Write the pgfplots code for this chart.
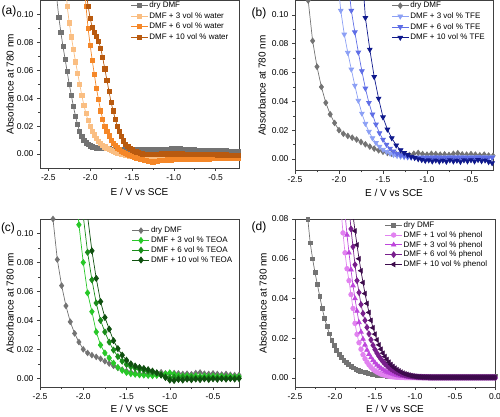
\documentclass[border=0pt]{standalone}
\usepackage{fontspec}
\setmainfont{Liberation Sans}
\usepackage{pgfplots}
\pgfplotsset{compat=1.18}
\definecolor{cgrey}{RGB}{115,115,115}
\definecolor{lorange}{RGB}{250,190,130}
\definecolor{morange}{RGB}{245,135,40}
\definecolor{dorange}{RGB}{185,90,15}
\definecolor{lblue}{RGB}{140,160,245}
\definecolor{mblue}{RGB}{95,110,230}
\definecolor{dblue}{RGB}{15,25,140}
\definecolor{lgreen}{RGB}{40,200,40}
\definecolor{mgreen}{RGB}{25,140,25}
\definecolor{dgreen}{RGB}{15,80,15}
\definecolor{lpink}{RGB}{225,130,240}
\definecolor{magen}{RGB}{190,70,220}
\definecolor{purp}{RGB}{120,30,140}
\definecolor{dpurp}{RGB}{60,10,75}
\pgfplotsset{
  panel/.style={
    scale only axis, anchor=south west,
    axis line style={black!75, line width=0.6pt},
    tick align=outside, tick pos=left,
    major tick length=3pt, minor tick length=1.8pt,
    minor x tick num=1, minor y tick num=1,
    every tick/.style={black!75, line width=0.5pt},
    scaled y ticks=false, scaled x ticks=false,
    tick label style={font=\fontsize{8.5}{10}\selectfont},
    /pgf/number format/assume math mode=true,
    x tick label style={/pgf/number format/.cd, fixed, fixed zerofill, precision=1, /tikz/.cd},
    y tick label style={/pgf/number format/.cd, fixed, fixed zerofill, precision=2, /tikz/.cd},
    label style={font=\fontsize{10}{12}\selectfont},
    xlabel={E / V vs SCE}, ylabel={Absorbance at 780 nm},
    legend style={anchor=north west, draw=none, fill=none, font=\fontsize{8}{9.5}\selectfont,
      inner sep=0pt, outer sep=0pt, row sep=0pt, nodes={inner sep=1.2pt, text height=5.9pt, text depth=1.5pt}},
    legend cell align=left,
    legend image code/.code={\draw[mark repeat=2,mark phase=2,##1] plot coordinates {(0pt,0pt) (8.5pt,0pt) (17pt,0pt)};},
  },
  ser/.style={color=#1, line width=0.7pt, mark options={solid, fill=#1, draw=#1}},
}
\begin{document}
\begin{tikzpicture}
\useasboundingbox (0pt,0pt) rectangle (500pt,416pt);
% ---------------- (a)
\begin{axis}[panel, at={(40pt,248pt)}, width=199pt, height=167.5pt,
  xmin=-2.6, xmax=-0.22, ymin=-0.01, ymax=0.11,
  xtick={-2.5,-2,-1.5,-1,-0.5}, ytick={0,0.02,0.04,0.06,0.08,0.10},
  xlabel style={at={(axis description cs:0.5,-0.143)}, anchor=center},
  ylabel style={at={(axis description cs:-0.151,0.5)}, anchor=center},
  legend style={at={(axis description cs:0.455,0.998)}, row sep=0.7pt}]
\addplot[ser=cgrey, mark=square*, mark size=2.1pt] coordinates {(-2.425,0.135)(-2.4,0.112)(-2.375,0.098)(-2.35,0.087)(-2.325,0.077)(-2.3,0.068)(-2.275,0.059)(-2.25,0.050)(-2.225,0.042)(-2.2,0.034)(-2.175,0.027)(-2.15,0.021)(-2.125,0.016)(-2.1,0.0125)(-2.075,0.0098)(-2.05,0.0080)(-2.025,0.0067)(-2.0,0.0058)(-1.975,0.0052)(-1.95,0.0048)(-1.925,0.0045)(-1.9,0.0043)(-1.875,0.0041)(-1.85,0.0040)(-1.825,0.0039)(-1.8,0.0038)(-1.775,0.0037)(-1.75,0.0036)(-1.725,0.0036)(-1.7,0.0035)(-1.675,0.0035)(-1.65,0.0034)(-1.625,0.0034)(-1.6,0.0035)(-1.575,0.0034)(-1.55,0.0033)(-1.525,0.0034)(-1.5,0.0033)(-1.475,0.0033)(-1.45,0.0034)(-1.425,0.0035)(-1.4,0.0034)(-1.375,0.0033)(-1.35,0.0034)(-1.325,0.0035)(-1.3,0.0034)(-1.275,0.0033)(-1.25,0.0034)(-1.225,0.0033)(-1.2,0.0034)(-1.175,0.0035)(-1.15,0.0034)(-1.125,0.0033)(-1.1,0.0034)(-1.075,0.0035)(-1.05,0.0036)(-1.025,0.0037)(-1.0,0.0036)(-0.975,0.0037)(-0.95,0.0038)(-0.925,0.0037)(-0.9,0.0036)(-0.875,0.0034)(-0.85,0.0033)(-0.825,0.0032)(-0.8,0.0031)(-0.775,0.0030)(-0.75,0.0030)(-0.725,0.0029)(-0.7,0.0029)(-0.675,0.0028)(-0.65,0.0029)(-0.625,0.0028)(-0.6,0.0027)(-0.575,0.0027)(-0.55,0.0026)(-0.525,0.0026)(-0.5,0.0025)(-0.475,0.0025)(-0.45,0.0024)(-0.425,0.0024)(-0.4,0.0023)(-0.375,0.0023)(-0.35,0.0022)(-0.325,0.0022)(-0.3,0.0021)(-0.275,0.0021)(-0.25,0.0020)(-0.225,0.0020)};
\addlegendentry{dry DMF}
\addplot[ser=lorange, mark=square*, mark size=2.1pt] coordinates {(-2.3,0.130)(-2.275,0.106)(-2.25,0.094)(-2.225,0.084)(-2.2,0.075)(-2.175,0.066)(-2.15,0.058)(-2.125,0.050)(-2.1,0.042)(-2.075,0.035)(-2.05,0.029)(-2.025,0.024)(-2.0,0.020)(-1.975,0.0165)(-1.95,0.0137)(-1.925,0.0113)(-1.9,0.0093)(-1.875,0.0077)(-1.85,0.0063)(-1.825,0.0052)(-1.8,0.0042)(-1.775,0.0033)(-1.75,0.0025)(-1.725,0.0018)(-1.7,0.0012)(-1.675,0.0007)(-1.65,0.0003)(-1.625,-0.0001)(-1.6,-0.0005)(-1.575,-0.0009)(-1.55,-0.0012)(-1.525,-0.0015)(-1.5,-0.0018)(-1.475,-0.0020)(-1.45,-0.0022)(-1.425,-0.0024)(-1.4,-0.0026)(-1.375,-0.0028)(-1.35,-0.0030)(-1.325,-0.0031)(-1.3,-0.0032)(-1.275,-0.0034)(-1.25,-0.0035)(-1.225,-0.0034)(-1.2,-0.0033)(-1.175,-0.0032)(-1.15,-0.0032)(-1.125,-0.0031)(-1.1,-0.0031)(-1.075,-0.0030)(-1.05,-0.0030)(-1.025,-0.0031)(-1.0,-0.0030)(-0.975,-0.0029)(-0.95,-0.0029)(-0.925,-0.0030)(-0.9,-0.0029)(-0.875,-0.0028)(-0.85,-0.0028)(-0.825,-0.0029)(-0.8,-0.0028)(-0.775,-0.0027)(-0.75,-0.0027)(-0.725,-0.0028)(-0.7,-0.0027)(-0.675,-0.0026)(-0.65,-0.0026)(-0.625,-0.0027)(-0.6,-0.0026)(-0.575,-0.0025)(-0.55,-0.0025)(-0.525,-0.0026)(-0.5,-0.0025)(-0.475,-0.0024)(-0.45,-0.0024)(-0.425,-0.0025)(-0.4,-0.0024)(-0.375,-0.0023)(-0.35,-0.0023)(-0.325,-0.0024)(-0.3,-0.0023)(-0.275,-0.0022)(-0.25,-0.0022)(-0.225,-0.0023)};
\addlegendentry{DMF + 3 vol \% water}
\addplot[ser=morange, mark=square*, mark size=2.1pt] coordinates {(-2.075,0.125)(-2.05,0.106)(-2.025,0.090)(-2.0,0.078)(-1.975,0.067)(-1.95,0.057)(-1.925,0.047)(-1.9,0.039)(-1.875,0.031)(-1.85,0.025)(-1.825,0.020)(-1.8,0.016)(-1.775,0.013)(-1.75,0.010)(-1.725,0.0078)(-1.7,0.0060)(-1.675,0.0045)(-1.65,0.0033)(-1.625,0.0022)(-1.6,0.0012)(-1.575,0.0004)(-1.55,-0.0004)(-1.525,-0.0011)(-1.5,-0.0017)(-1.475,-0.0022)(-1.45,-0.0027)(-1.425,-0.0032)(-1.4,-0.0036)(-1.375,-0.0040)(-1.35,-0.0044)(-1.325,-0.0048)(-1.3,-0.0052)(-1.275,-0.0055)(-1.25,-0.0058)(-1.225,-0.0055)(-1.2,-0.0051)(-1.175,-0.0048)(-1.15,-0.0046)(-1.125,-0.0044)(-1.1,-0.0043)(-1.075,-0.0042)(-1.05,-0.0041)(-1.025,-0.0041)(-1.0,-0.0040)(-0.975,-0.0039)(-0.95,-0.0040)(-0.925,-0.0039)(-0.9,-0.0038)(-0.875,-0.0038)(-0.85,-0.0037)(-0.825,-0.0038)(-0.8,-0.0037)(-0.775,-0.0036)(-0.75,-0.0036)(-0.725,-0.0035)(-0.7,-0.0036)(-0.675,-0.0035)(-0.65,-0.0034)(-0.625,-0.0034)(-0.6,-0.0033)(-0.575,-0.0034)(-0.55,-0.0033)(-0.525,-0.0032)(-0.5,-0.0032)(-0.475,-0.0031)(-0.45,-0.0032)(-0.425,-0.0031)(-0.4,-0.0030)(-0.375,-0.0030)(-0.35,-0.0029)(-0.325,-0.0030)(-0.3,-0.0029)(-0.275,-0.0028)(-0.25,-0.0028)(-0.225,-0.0029)};
\addlegendentry{DMF + 6 vol \% water}
\addplot[ser=dorange, mark=square*, mark size=2.1pt] coordinates {(-2.075,0.135)(-2.05,0.118)(-2.025,0.106)(-2.0,0.097)(-1.975,0.091)(-1.95,0.087)(-1.925,0.0845)(-1.9,0.081)(-1.875,0.076)(-1.85,0.069)(-1.825,0.061)(-1.8,0.053)(-1.775,0.045)(-1.75,0.037)(-1.725,0.031)(-1.7,0.025)(-1.675,0.020)(-1.65,0.016)(-1.625,0.0125)(-1.6,0.0095)(-1.575,0.0072)(-1.55,0.0053)(-1.525,0.0040)(-1.5,0.0030)(-1.475,0.0022)(-1.45,0.0015)(-1.425,0.0010)(-1.4,0.0005)(-1.375,0.0002)(-1.35,0.0000)(-1.325,-0.0002)(-1.3,-0.0003)(-1.275,-0.0004)(-1.25,-0.0003)(-1.225,-0.0002)(-1.2,-0.0001)(-1.175,0.0000)(-1.15,0.0001)(-1.125,0.0000)(-1.1,0.0001)(-1.075,0.0002)(-1.05,0.0001)(-1.025,0.0002)(-1.0,0.0003)(-0.975,0.0002)(-0.95,0.0003)(-0.925,0.0002)(-0.9,0.0001)(-0.875,0.0000)(-0.85,-0.0001)(-0.825,0.0000)(-0.8,-0.0001)(-0.775,-0.0002)(-0.75,-0.0001)(-0.725,-0.0002)(-0.7,-0.0003)(-0.675,-0.0002)(-0.65,-0.0003)(-0.625,-0.0004)(-0.6,-0.0003)(-0.575,-0.0004)(-0.55,-0.0005)(-0.525,-0.0004)(-0.5,-0.0005)(-0.475,-0.0006)(-0.45,-0.0005)(-0.425,-0.0006)(-0.4,-0.0007)(-0.375,-0.0006)(-0.35,-0.0007)(-0.325,-0.0008)(-0.3,-0.0007)(-0.275,-0.0008)(-0.25,-0.0009)(-0.225,-0.0008)};
\addlegendentry{DMF + 10 vol \% water}
\end{axis}
% ---------------- (b)
\begin{axis}[panel, at={(295pt,245.5pt)}, width=198pt, height=170pt,
  xmin=-2.5, xmax=-0.25, ymin=-0.008, ymax=0.11,
  xtick={-2.5,-2,-1.5,-1,-0.5}, ytick={0,0.02,0.04,0.06,0.08,0.10},
  xlabel style={at={(axis description cs:0.5,-0.13)}, anchor=center},
  ylabel style={at={(axis description cs:-0.167,0.5)}, anchor=center},
  legend style={at={(axis description cs:0.487,0.998)}, row sep=0.8pt}]
\addplot[ser=cgrey, mark=diamond*, mark size=2.8pt] coordinates {(-2.40,0.140)(-2.35,0.110)(-2.30,0.082)(-2.25,0.064)(-2.20,0.050)(-2.15,0.039)(-2.10,0.031)(-2.05,0.025)(-2.00,0.020)(-1.95,0.0175)(-1.90,0.0160)(-1.85,0.0148)(-1.80,0.0135)(-1.75,0.0118)(-1.70,0.0102)(-1.65,0.0086)(-1.60,0.0072)(-1.55,0.0060)(-1.50,0.0050)(-1.45,0.0042)(-1.40,0.0036)(-1.35,0.0032)(-1.30,0.0030)(-1.25,0.0030)(-1.20,0.0028)(-1.15,0.0036)(-1.10,0.0042)(-1.05,0.0034)(-1.00,0.0030)(-0.95,0.0036)(-0.90,0.0034)(-0.85,0.0030)(-0.80,0.0032)(-0.75,0.0028)(-0.70,0.0036)(-0.65,0.0040)(-0.60,0.0032)(-0.55,0.0030)(-0.50,0.0034)(-0.45,0.0030)(-0.40,0.0026)(-0.35,0.0030)(-0.30,0.0024)(-0.25,0.0022)};
\addlegendentry{dry DMF}
\addplot[ser=lblue, mark=triangle*, mark size=2.7pt, mark options={rotate=180}] coordinates {(-2.02,0.128)(-1.98,0.103)(-1.94,0.0865)(-1.90,0.0738)(-1.86,0.0622)(-1.82,0.0510)(-1.78,0.0405)(-1.74,0.0316)(-1.70,0.0245)(-1.66,0.0190)(-1.62,0.0145)(-1.58,0.0112)(-1.54,0.0086)(-1.50,0.0065)(-1.46,0.0050)(-1.42,0.0038)(-1.38,0.0029)(-1.34,0.0022)(-1.30,0.0017)(-1.26,0.0014)(-1.22,0.0012)(-1.18,0.0011)(-1.14,0.0012)(-1.10,0.0010)(-1.06,0.0011)(-1.02,0.0012)(-0.98,0.0011)(-0.94,0.0012)(-0.90,0.0011)(-0.86,0.0012)(-0.82,0.0011)(-0.78,0.0012)(-0.74,0.0013)(-0.70,0.0012)(-0.66,0.0011)(-0.62,0.0012)(-0.58,0.0013)(-0.54,0.0012)(-0.50,0.0013)(-0.46,0.0012)(-0.42,0.0013)(-0.38,0.0012)(-0.34,0.0013)(-0.30,0.0012)(-0.26,0.0013)};
\addlegendentry{DMF + 3 vol \% TFE}
\addplot[ser=mblue, mark=triangle*, mark size=2.7pt, mark options={rotate=180}] coordinates {(-1.90,0.125)(-1.86,0.103)(-1.82,0.088)(-1.78,0.074)(-1.74,0.061)(-1.70,0.049)(-1.66,0.039)(-1.62,0.031)(-1.58,0.024)(-1.54,0.018)(-1.50,0.0135)(-1.46,0.0100)(-1.42,0.0073)(-1.38,0.0053)(-1.34,0.0038)(-1.30,0.0027)(-1.26,0.0020)(-1.22,0.0015)(-1.18,0.0012)(-1.14,0.0010)(-1.10,0.0009)(-1.06,0.0010)(-1.02,0.0008)(-0.98,0.0010)(-0.94,0.0009)(-0.90,0.0011)(-0.86,0.0009)(-0.82,0.0010)(-0.78,0.0008)(-0.74,0.0010)(-0.70,0.0009)(-0.66,0.0011)(-0.62,0.0009)(-0.58,0.0010)(-0.54,0.0008)(-0.50,0.0010)(-0.46,0.0009)(-0.42,0.0011)(-0.38,0.0009)(-0.34,0.0010)(-0.30,0.0008)(-0.26,0.0010)};
\addlegendentry{DMF + 6 vol \% TFE}
\addplot[ser=dblue, mark=triangle*, mark size=2.7pt, mark options={rotate=180}] coordinates {(-1.75,0.140)(-1.70,0.098)(-1.65,0.076)(-1.60,0.057)(-1.55,0.042)(-1.50,0.029)(-1.45,0.0205)(-1.40,0.0145)(-1.35,0.0095)(-1.30,0.0062)(-1.26,0.0042)(-1.22,0.0028)(-1.18,0.0016)(-1.14,0.0008)(-1.10,0.0000)(-1.06,-0.0006)(-1.02,-0.0012)(-0.98,-0.0008)(-0.94,-0.0016)(-0.90,-0.0009)(-0.86,-0.0017)(-0.82,-0.0010)(-0.78,-0.0018)(-0.74,-0.0008)(-0.70,-0.0016)(-0.66,-0.0010)(-0.62,-0.0019)(-0.58,-0.0008)(-0.54,-0.0015)(-0.50,-0.0007)(-0.46,-0.0016)(-0.42,-0.0006)(-0.38,-0.0014)(-0.34,-0.0009)(-0.30,-0.0020)(-0.26,-0.0028)};
\addlegendentry{DMF + 10 vol \% TFE}
\end{axis}
% ---------------- (c)
\begin{axis}[panel, at={(40pt,29pt)}, width=199pt, height=168pt,
  xmin=-2.5, xmax=-0.2, ymin=-0.006, ymax=0.11,
  xtick={-2.5,-2,-1.5,-1,-0.5}, ytick={0,0.02,0.04,0.06,0.08,0.10},
  xlabel style={at={(axis description cs:0.5,-0.131)}, anchor=center},
  ylabel style={at={(axis description cs:-0.151,0.5)}, anchor=center},
  legend style={at={(axis description cs:0.463,0.96)}, row sep=0pt}]
\addplot[ser=cgrey, mark=diamond*, mark size=2.8pt] coordinates {(-2.40,0.140)(-2.35,0.110)(-2.30,0.082)(-2.25,0.064)(-2.20,0.050)(-2.15,0.039)(-2.10,0.031)(-2.05,0.025)(-2.00,0.020)(-1.95,0.0175)(-1.90,0.0160)(-1.85,0.0148)(-1.80,0.0135)(-1.75,0.0118)(-1.70,0.0102)(-1.65,0.0086)(-1.60,0.0072)(-1.55,0.0060)(-1.50,0.0050)(-1.45,0.0042)(-1.40,0.0036)(-1.35,0.0032)(-1.30,0.0030)(-1.25,0.0030)(-1.20,0.0028)(-1.15,0.0036)(-1.10,0.0042)(-1.05,0.0034)(-1.00,0.0030)(-0.95,0.0036)(-0.90,0.0034)(-0.85,0.0030)(-0.80,0.0032)(-0.75,0.0028)(-0.70,0.0036)(-0.65,0.0040)(-0.60,0.0032)(-0.55,0.0030)(-0.50,0.0034)(-0.45,0.0030)(-0.40,0.0026)(-0.35,0.0030)(-0.30,0.0024)(-0.25,0.0022)(-0.20,0.0022)};
\addlegendentry{dry DMF}
\addplot[ser=lgreen, mark=diamond*, mark size=3pt] coordinates {(-2.10,0.140)(-2.05,0.106)(-2.00,0.080)(-1.95,0.059)(-1.90,0.046)(-1.85,0.032)(-1.80,0.023)(-1.75,0.0175)(-1.70,0.0140)(-1.65,0.0105)(-1.60,0.0075)(-1.55,0.0055)(-1.50,0.0040)(-1.45,0.0032)(-1.40,0.0028)(-1.35,0.0024)(-1.30,0.0022)(-1.25,0.0020)(-1.20,0.0018)(-1.15,0.0020)(-1.10,0.0025)(-1.05,0.0030)(-1.00,0.0038)(-0.95,0.0028)(-0.90,0.0020)(-0.85,0.0016)(-0.80,0.0018)(-0.75,0.0015)(-0.70,0.0017)(-0.65,0.0014)(-0.60,0.0016)(-0.55,0.0013)(-0.50,0.0015)(-0.45,0.0012)(-0.40,0.0014)(-0.35,0.0011)(-0.30,0.0013)(-0.25,0.0010)(-0.20,0.0012)};
\addlegendentry{DMF + 3 vol \% TEOA}
\addplot[ser=mgreen, mark=diamond*, mark size=3pt] coordinates {(-2.05,0.140)(-2.00,0.112)(-1.95,0.087)(-1.90,0.068)(-1.85,0.052)(-1.80,0.040)(-1.75,0.032)(-1.70,0.025)(-1.65,0.0195)(-1.60,0.0150)(-1.55,0.0118)(-1.50,0.0095)(-1.45,0.0080)(-1.40,0.0070)(-1.35,0.0062)(-1.30,0.0055)(-1.25,0.0048)(-1.20,0.0042)(-1.15,0.0035)(-1.10,0.0025)(-1.05,0.0012)(-1.00,0.0005)(-0.95,0.0008)(-0.90,0.0004)(-0.85,0.0007)(-0.80,0.0003)(-0.75,0.0006)(-0.70,0.0002)(-0.65,0.0005)(-0.60,0.0002)(-0.55,0.0005)(-0.50,0.0001)(-0.45,0.0004)(-0.40,0.0001)(-0.35,0.0004)(-0.30,0.0000)(-0.25,0.0003)(-0.20,0.0001)};
\addlegendentry{DMF + 6 vol \% TEOA}
\addplot[ser=dgreen, mark=diamond*, mark size=3pt] coordinates {(-2.00,0.140)(-1.95,0.112)(-1.90,0.088)(-1.85,0.069)(-1.80,0.053)(-1.75,0.042)(-1.70,0.034)(-1.65,0.026)(-1.60,0.0205)(-1.55,0.0160)(-1.50,0.0125)(-1.45,0.0100)(-1.40,0.0085)(-1.35,0.0075)(-1.30,0.0068)(-1.25,0.0060)(-1.20,0.0050)(-1.15,0.0038)(-1.10,0.0022)(-1.05,0.0005)(-1.00,-0.0012)(-0.95,-0.0015)(-0.90,-0.0008)(-0.85,-0.0012)(-0.80,-0.0006)(-0.75,-0.0010)(-0.70,-0.0005)(-0.65,-0.0009)(-0.60,-0.0004)(-0.55,-0.0008)(-0.50,-0.0003)(-0.45,-0.0007)(-0.40,-0.0002)(-0.35,-0.0006)(-0.30,-0.0002)(-0.25,-0.0005)(-0.20,-0.0001)};
\addlegendentry{DMF + 10 vol \% TEOA}
\end{axis}
% ---------------- (d)
\begin{axis}[panel, at={(295pt,29pt)}, width=200pt, height=168pt,
  xmin=-2.5, xmax=0, ymin=-0.0045, ymax=0.08,
  xtick={-2.5,-2,-1.5,-1,-0.5,0}, ytick={0,0.02,0.04,0.06,0.08},
  xlabel style={at={(axis description cs:0.5,-0.131)}, anchor=center},
  ylabel style={at={(axis description cs:-0.16,0.5)}, anchor=center},
  legend style={at={(axis description cs:0.449,0.992)}, row sep=0pt}]
\addplot[ser=cgrey, mark=square*, mark size=1.9pt] coordinates {(-2.37,0.093)(-2.34,0.080)(-2.31,0.068)(-2.28,0.060)(-2.25,0.053)(-2.22,0.047)(-2.19,0.041)(-2.16,0.035)(-2.13,0.030)(-2.10,0.026)(-2.07,0.0222)(-2.04,0.0190)(-2.01,0.0163)(-1.98,0.0140)(-1.95,0.0120)(-1.92,0.0103)(-1.89,0.0089)(-1.86,0.0077)(-1.83,0.0067)(-1.80,0.0058)(-1.77,0.0051)(-1.74,0.0045)(-1.71,0.0040)(-1.68,0.0035)(-1.65,0.0031)(-1.62,0.0027)(-1.59,0.0024)(-1.56,0.0021)(-1.53,0.0019)(-1.50,0.0017)(-1.47,0.0015)(-1.44,0.0013)(-1.41,0.0012)(-1.38,0.0011)(-1.35,0.0010)(-1.32,0.0009)(-1.29,0.0009)(-1.26,0.0008)(-1.23,0.0008)(-1.20,0.0008)(-1.17,0.0008)(-1.14,0.0008)(-1.11,0.0008)(-1.08,0.0008)(-1.05,0.0008)(-1.02,0.0008)(-0.99,0.0008)(-0.96,0.0008)(-0.93,0.0008)(-0.90,0.0008)(-0.87,0.0008)(-0.84,0.0008)(-0.81,0.0008)(-0.78,0.0008)(-0.75,0.0008)(-0.72,0.0008)(-0.69,0.0008)(-0.66,0.0008)(-0.63,0.0008)(-0.60,0.0008)(-0.57,0.0008)(-0.54,0.0008)(-0.51,0.0008)(-0.48,0.0008)(-0.45,0.0008)(-0.42,0.0008)(-0.39,0.0008)(-0.36,0.0008)(-0.33,0.0008)(-0.30,0.0008)(-0.27,0.0008)(-0.24,0.0008)(-0.21,0.0008)(-0.18,0.0008)(-0.15,0.0008)(-0.12,0.0008)(-0.09,0.0008)(-0.06,0.0008)(-0.03,0.0008)(0.00,0.0008)};
\addlegendentry{dry DMF}
\addplot[ser=lpink, mark=*, mark size=2.3pt] coordinates {(-1.95,0.100)(-1.925,0.085)(-1.9,0.073)(-1.875,0.063)(-1.85,0.055)(-1.825,0.049)(-1.8,0.042)(-1.775,0.035)(-1.75,0.0275)(-1.725,0.0220)(-1.7,0.0178)(-1.675,0.0145)(-1.65,0.0118)(-1.625,0.0097)(-1.6,0.0080)(-1.575,0.0066)(-1.55,0.0054)(-1.525,0.0044)(-1.5,0.0036)(-1.475,0.0030)(-1.45,0.0025)(-1.425,0.0020)(-1.4,0.0017)(-1.375,0.0014)(-1.35,0.0011)(-1.325,0.0009)(-1.3,0.0007)(-1.275,0.0006)(-1.25,0.0005)(-1.225,0.0004)(-1.2,0.0004)(-1.175,0.0003)(-1.15,0.0003)(-1.125,0.0002)(-1.1,0.0002)(-1.075,0.0002)(-1.05,0.0002)(-1.025,0.0002)(-1.0,0.0002)(-0.975,0.0002)(-0.95,0.0002)(-0.925,0.0002)(-0.9,0.0002)(-0.875,0.0002)(-0.85,0.0002)(-0.825,0.0002)(-0.8,0.0002)(-0.775,0.0002)(-0.75,0.0002)(-0.725,0.0002)(-0.7,0.0002)(-0.675,0.0002)(-0.65,0.0002)(-0.625,0.0002)(-0.6,0.0002)(-0.575,0.0002)(-0.55,0.0002)(-0.525,0.0002)(-0.5,0.0002)(-0.475,0.0002)(-0.45,0.0002)(-0.425,0.0002)(-0.4,0.0002)(-0.375,0.0002)(-0.35,0.0002)(-0.325,0.0002)(-0.3,0.0002)(-0.275,0.0002)(-0.25,0.0002)(-0.225,0.0002)(-0.2,0.0002)(-0.175,0.0002)(-0.15,0.0002)(-0.125,0.0002)(-0.1,0.0002)(-0.075,0.0002)(-0.05,0.0002)(-0.025,0.0002)(0,0.0002)};
\addlegendentry{DMF + 1 vol \% phenol}
\addplot[ser=magen, mark=triangle*, mark size=2.6pt] coordinates {(-1.9,0.095)(-1.875,0.083)(-1.85,0.072)(-1.825,0.063)(-1.8,0.0545)(-1.775,0.0465)(-1.75,0.0400)(-1.725,0.0337)(-1.7,0.0280)(-1.675,0.0232)(-1.65,0.0196)(-1.625,0.0167)(-1.6,0.0141)(-1.575,0.0120)(-1.55,0.0103)(-1.525,0.0089)(-1.5,0.0077)(-1.475,0.0066)(-1.45,0.0057)(-1.425,0.0049)(-1.4,0.0042)(-1.375,0.0036)(-1.35,0.0031)(-1.325,0.0027)(-1.3,0.0023)(-1.275,0.0020)(-1.25,0.0017)(-1.225,0.0014)(-1.2,0.0012)(-1.175,0.0010)(-1.15,0.0009)(-1.125,0.0008)(-1.1,0.0007)(-1.075,0.0006)(-1.05,0.0005)(-1.025,0.0005)(-1.0,0.0004)(-0.975,0.0004)(-0.95,0.0003)(-0.925,0.0003)(-0.9,0.0003)(-0.875,0.0003)(-0.85,0.0003)(-0.825,0.0003)(-0.8,0.0003)(-0.775,0.0003)(-0.75,0.0003)(-0.725,0.0003)(-0.7,0.0003)(-0.675,0.0003)(-0.65,0.0003)(-0.625,0.0003)(-0.6,0.0003)(-0.575,0.0003)(-0.55,0.0003)(-0.525,0.0003)(-0.5,0.0003)(-0.475,0.0003)(-0.45,0.0003)(-0.425,0.0003)(-0.4,0.0003)(-0.375,0.0003)(-0.35,0.0003)(-0.325,0.0003)(-0.3,0.0003)(-0.275,0.0003)(-0.25,0.0003)(-0.225,0.0003)(-0.2,0.0003)(-0.175,0.0003)(-0.15,0.0003)(-0.125,0.0003)(-0.1,0.0003)(-0.075,0.0003)(-0.05,0.0003)(-0.025,0.0003)(0,0.0003)};
\addlegendentry{DMF + 3 vol \% phenol}
\addplot[ser=purp, mark=diamond*, mark size=2.9pt] coordinates {(-1.85,0.100)(-1.825,0.086)(-1.8,0.075)(-1.775,0.066)(-1.75,0.057)(-1.725,0.049)(-1.7,0.043)(-1.675,0.037)(-1.65,0.0325)(-1.625,0.0290)(-1.6,0.0255)(-1.575,0.0222)(-1.55,0.0192)(-1.525,0.0165)(-1.5,0.0143)(-1.475,0.0125)(-1.45,0.0109)(-1.425,0.0095)(-1.4,0.0082)(-1.375,0.0071)(-1.35,0.0062)(-1.325,0.0053)(-1.3,0.0046)(-1.275,0.0040)(-1.25,0.0034)(-1.225,0.0029)(-1.2,0.0025)(-1.175,0.0021)(-1.15,0.0018)(-1.125,0.0015)(-1.1,0.0013)(-1.075,0.0011)(-1.05,0.0009)(-1.025,0.0008)(-1.0,0.0007)(-0.975,0.0006)(-0.95,0.0005)(-0.925,0.0005)(-0.9,0.0004)(-0.875,0.0004)(-0.85,0.0004)(-0.825,0.0003)(-0.8,0.0003)(-0.775,0.0003)(-0.75,0.0003)(-0.725,0.0003)(-0.7,0.0003)(-0.675,0.0003)(-0.65,0.0003)(-0.625,0.0003)(-0.6,0.0003)(-0.575,0.0003)(-0.55,0.0003)(-0.525,0.0003)(-0.5,0.0003)(-0.475,0.0003)(-0.45,0.0003)(-0.425,0.0003)(-0.4,0.0003)(-0.375,0.0003)(-0.35,0.0003)(-0.325,0.0003)(-0.3,0.0003)(-0.275,0.0003)(-0.25,0.0003)(-0.225,0.0003)(-0.2,0.0003)(-0.175,0.0003)(-0.15,0.0003)(-0.125,0.0003)(-0.1,0.0003)(-0.075,0.0003)(-0.05,0.0003)(-0.025,0.0003)(0,0.0003)};
\addlegendentry{DMF + 6 vol \% phenol}
\addplot[ser=dpurp, mark=triangle*, mark size=2.6pt, mark options={rotate=90}] coordinates {(-1.8,0.092)(-1.775,0.082)(-1.75,0.074)(-1.725,0.067)(-1.7,0.060)(-1.675,0.054)(-1.65,0.048)(-1.625,0.0425)(-1.6,0.0375)(-1.575,0.0330)(-1.55,0.0290)(-1.525,0.0253)(-1.5,0.0221)(-1.475,0.0192)(-1.45,0.0167)(-1.425,0.0145)(-1.4,0.0125)(-1.375,0.0108)(-1.35,0.0093)(-1.325,0.0080)(-1.3,0.0068)(-1.275,0.0058)(-1.25,0.0050)(-1.225,0.0042)(-1.2,0.0036)(-1.175,0.0030)(-1.15,0.0025)(-1.125,0.0021)(-1.1,0.0018)(-1.075,0.0015)(-1.05,0.0012)(-1.025,0.0010)(-1.0,0.0008)(-0.975,0.0007)(-0.95,0.0006)(-0.925,0.0005)(-0.9,0.0005)(-0.875,0.0004)(-0.85,0.0004)(-0.825,0.0004)(-0.8,0.0003)(-0.775,0.0003)(-0.75,0.0003)(-0.725,0.0003)(-0.7,0.0003)(-0.675,0.0003)(-0.65,0.0003)(-0.625,0.0003)(-0.6,0.0003)(-0.575,0.0003)(-0.55,0.0003)(-0.525,0.0003)(-0.5,0.0003)(-0.475,0.0003)(-0.45,0.0003)(-0.425,0.0003)(-0.4,0.0003)(-0.375,0.0003)(-0.35,0.0003)(-0.325,0.0003)(-0.3,0.0003)(-0.275,0.0003)(-0.25,0.0003)(-0.225,0.0003)(-0.2,0.0003)(-0.175,0.0003)(-0.15,0.0003)(-0.125,0.0003)(-0.1,0.0003)(-0.075,0.0003)(-0.05,0.0003)(-0.025,0.0003)(0,0.0003)};
\addlegendentry{DMF + 10 vol \% phenol}
\end{axis}
\node[font=\fontsize{12}{14}\selectfont] at (9pt,405pt) {(a)};
\node[font=\fontsize{12}{14}\selectfont] at (259pt,403pt) {(b)};
\node[font=\fontsize{12}{14}\selectfont] at (8pt,188pt) {(c)};
\node[font=\fontsize{12}{14}\selectfont] at (259pt,189pt) {(d)};
\end{tikzpicture}
\end{document}
